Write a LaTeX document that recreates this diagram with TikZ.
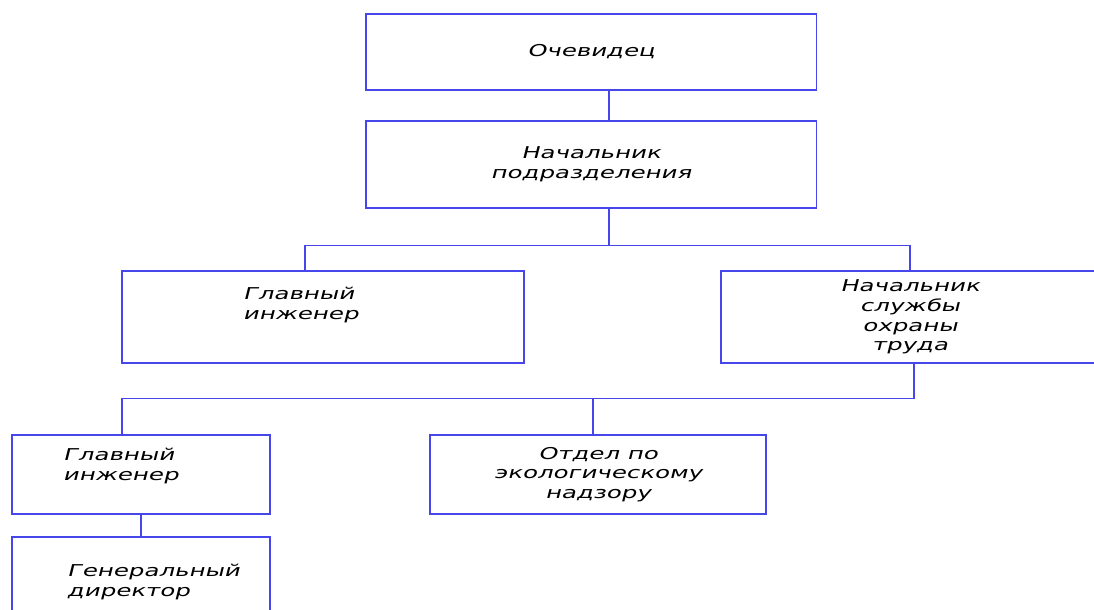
\documentclass[tikz,border=0pt]{standalone}
\usepackage{fontspec}
\newfontfamily\gostfont{DejaVu Sans}[FakeSlant=0.25,FakeStretch=1.5]
\definecolor{linkblue}{RGB}{70,70,235}
\begin{document}
\begin{tikzpicture}[x=0.025cm,y=-0.025cm,
	box/.style={draw=linkblue,line width=0.8pt,inner sep=0pt},
	link/.style={draw=linkblue,line width=0.8pt},
	txt/.style={font=\gostfont\fontsize{11.6}{14}\selectfont,align=center}]
	\useasboundingbox (0,0) rectangle (1094,610);
	\clip (0,0) rectangle (1094,610);
	% boxes
	\node[box,txt,minimum width=11.25cm,minimum height=1.9cm] (ochev) at (591,52) {Очевидец};
	\node[box,txt,minimum width=11.25cm,minimum height=2.175cm] (nachpodr) at (591,164.5) {Начальник\\подразделения};
	\node[box,minimum width=10.05cm,minimum height=2.3cm] (glav) at (323,317) {};
	\node[txt,align=left,anchor=west] (glavtxt) at (238,305) {Главный\\инженер};
	\node[box,txt,minimum width=9.45cm,minimum height=2.3cm] (nachohr) at (910,317) {Начальник\\службы\\охраны\\труда};
	\node[box,minimum width=6.45cm,minimum height=1.975cm] (glavb) at (141,474.5) {};
	\node[txt,align=left,anchor=west] (glavbtxt) at (58,466) {Главный\\инженер};
	\node[box,minimum width=6.45cm,minimum height=2.325cm] (gendir) at (141,583.5) {};
	\node[txt,align=left,anchor=west] (gendirtxt) at (62,582) {Генеральный\\директор};
	\node[box,txt,minimum width=8.4cm,minimum height=1.975cm] (otdel) at (598,474.5) {Отдел по\\экологическому\\надзору};
	% connectors
	\draw[link] ([xshift=0.45cm]ochev.south) -- ([xshift=0.45cm]nachpodr.north);
	\draw[link] ([xshift=0.45cm]nachpodr.south) -- ++(0,37) coordinate (j1);
	\draw[link] ([xshift=-0.45cm]glav.north) |- (j1) -| (nachohr.north);
	\draw[link] ([xshift=0.1cm]nachohr.south) -- ++(0,35) coordinate (j2);
	\draw[link] ([xshift=-0.475cm]glavb.north) |- (j2);
	\draw[link] ([xshift=-0.125cm]otdel.north) -- ([xshift=-0.125cm]otdel.north |- j2);
	\draw[link] (glavb) -- (gendir);
\end{tikzpicture}
\end{document}
